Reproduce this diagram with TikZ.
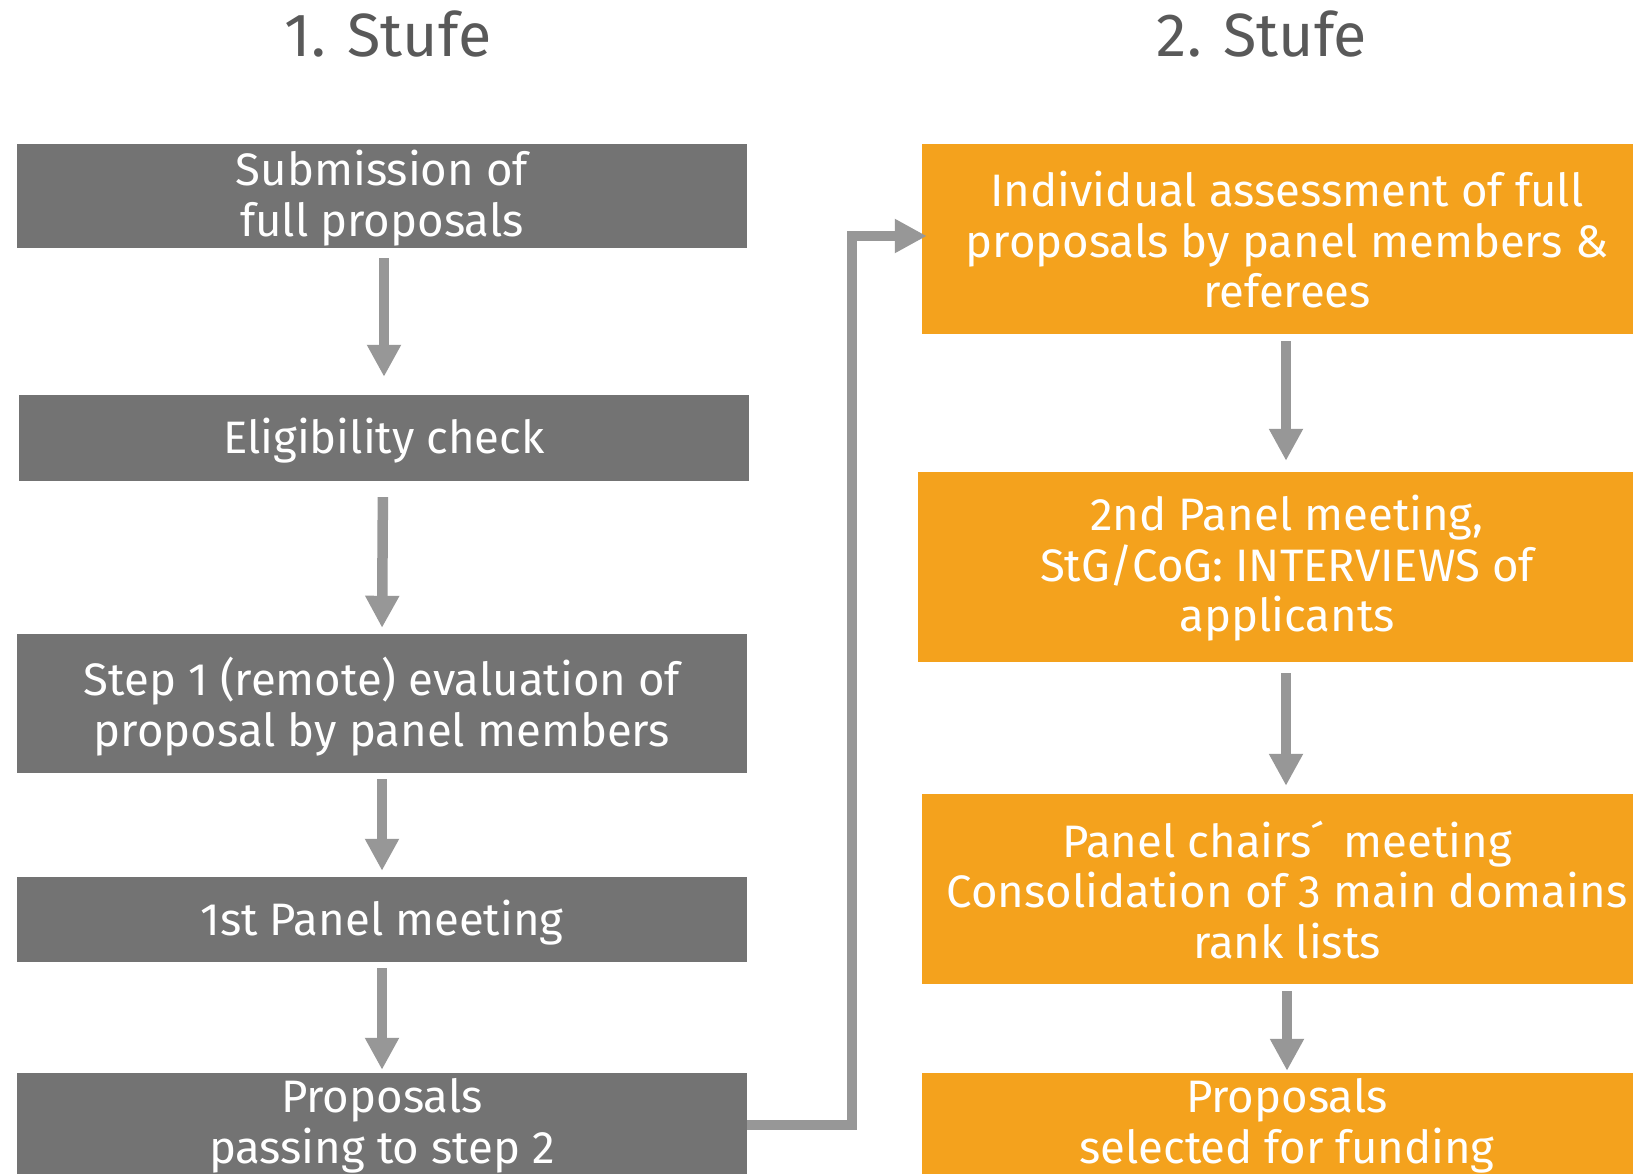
\documentclass[tikz,border=0pt]{standalone}
\usepackage{fontspec}
\setmainfont{Fira Sans}
\usetikzlibrary{arrows.meta,calc}
\definecolor{boxgray}{HTML}{737373}
\definecolor{boxorange}{HTML}{F4A21D}
\definecolor{arrgray}{HTML}{979797}
\definecolor{titlegray}{HTML}{595959}
\tikzset{
  graybox/.style={rectangle, fill=boxgray, minimum width=730pt, inner sep=0pt},
  orangebox/.style={rectangle, fill=boxorange, minimum width=730pt, inner sep=0pt},
  boxtext/.style={text=white, align=center, inner sep=0pt, font=\fontsize{45.5}{50.5}\selectfont},
  titletext/.style={text=titlegray, font=\fontsize{61}{61}\selectfont, inner sep=0pt, anchor=base},
  arr/.style={draw=arrgray, line width=10.5pt, -{Triangle[length=32pt,width=32pt]}},
}
\begin{document}
\begin{tikzpicture}[x=1pt,y=-1pt]
\clip (0,0) rectangle (1633,1174);
\fill[white] (0,0) rectangle (1633,1174);
% titles
\node[titletext] (T1) at (388,57) {1. Stufe};
\node[titletext] (T2) at (1262,57) {2. Stufe};
% left column
\node[graybox, minimum height=104pt] (B1) at (382,196) {};
\node[boxtext] (B1t) at ([yshift=-2pt]B1) {Submission of\\full proposals};
\node[graybox, minimum height=86pt] (B2) at (384,438) {};
\node[boxtext] (B2t) at ([yshift=-3pt]B2) {Eligibility check};
\node[graybox, minimum height=139pt] (B3) at (382,703.5) {};
\node[boxtext] (B3t) at ([yshift=-3pt]B3) {Step 1 (remote) evaluation of\\proposal by panel members};
\node[graybox, minimum height=85pt] (B4) at (382,919.5) {};
\node[boxtext] (B4t) at ([yshift=-3pt]B4) {1st Panel meeting};
\node[graybox, minimum height=130pt] (B5) at (382,1138) {};
\node[boxtext] (B5t) at (382,1126) {Proposals\\passing to step 2};
% right column
\node[orangebox, minimum height=190pt] (R1) at (1287,239) {};
\node[boxtext] (R1t) at ([yshift=-1pt]R1) {Individual assessment of full\\proposals by panel members \&\\referees};
\node[orangebox, minimum height=190pt, minimum width=734pt] (R2) at (1285,567) {};
\node[boxtext] (R2t) at ([yshift=-1.5pt]1287,567) {2nd Panel meeting,\\StG/CoG: INTERVIEWS of\\applicants};
\node[orangebox, minimum height=190pt] (R3) at (1287,889) {};
\node[boxtext] (R3t) at ([yshift=-1pt]R3) {Panel chairs\'{}\, meeting\\Consolidation of 3 main domains\\rank lists};
\node[orangebox, minimum height=130pt] (R4) at (1287,1138) {};
\node[boxtext] (R4t) at (1287,1126) {Proposals\\selected for funding};
% arrows left
\draw[arr, shorten <=10pt, shorten >=18pt] (B1.south -| 384,0) -- (B2.north -| 384,0);
\draw[arr, shorten <=16pt, shorten >=6pt] (B2.south -| 383,0) -- (B3.north -| 382,0);
\draw[arr, shorten <=6pt, shorten >=6pt] (B3.south) -- (B4.north);
\draw[arr, shorten <=6pt, shorten >=3pt] (B4.south) -- (B5.north);
% arrows right
\draw[arr, shorten <=7pt, shorten >=11pt] (R1.south -| 1286,0) -- (R2.north -| 1286,0);
\draw[arr, shorten <=11pt, shorten >=8pt] (R2.south -| 1286,0) -- (R3.north -| 1286,0);
\draw[arr, shorten <=7pt, shorten >=2pt] (R3.south) -- (R4.north);
% elbow connector
\coordinate (E1) at (852,1125);
\coordinate (E2) at (852,236);
\draw[arr, shorten >=-5pt] (B5.east |- E1) -- (E1) -- (E2) -- (R1.west |- E2);
\end{tikzpicture}
\end{document}
